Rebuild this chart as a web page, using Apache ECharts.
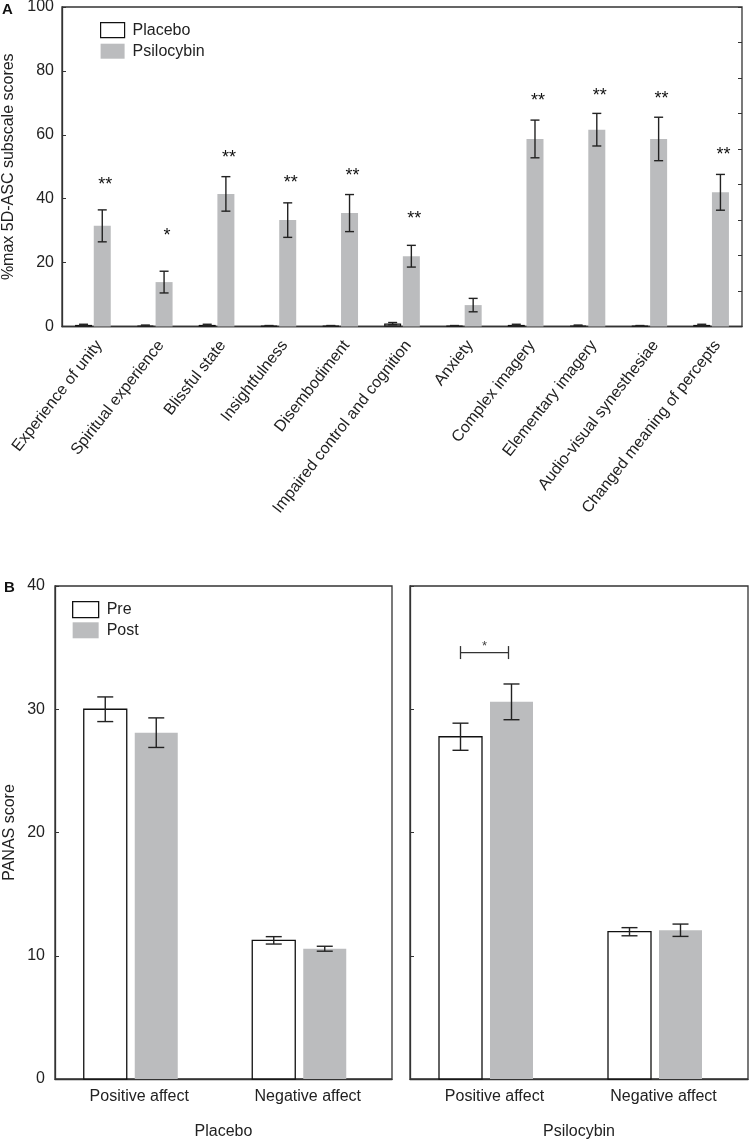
<!DOCTYPE html>
<html><head><meta charset="utf-8">
<script src="https://cdn.jsdelivr.net/npm/echarts@6/dist/echarts.min.js"></script>
<style>html,body{margin:0;padding:0;background:#fff}#c{width:750px;height:1143px}</style>
</head><body><div id="c"></div>
<script>
// ---------- Panel A data ----------
const categoriesA = ['Experience of unity','Spiritual experience','Blissful state','Insightfulness','Disembodiment','Impaired control and cognition','Anxiety','Complex imagery','Elementary imagery','Audio-visual synesthesiae','Changed meaning of percepts'];
const placeboMean = [0.5, 0.3, 0.5, 0.2, 0.2, 0.9, 0.2, 0.5, 0.3, 0.2, 0.5];
const placeboSem  = [0.2, 0.15, 0.2, 0.1, 0.1, 0.35, 0.1, 0.2, 0.15, 0.1, 0.2];
const psiloMean   = [31.5, 13.9, 41.5, 33.3, 35.5, 22.0, 6.7, 58.7, 61.6, 58.7, 42.0];
const psiloSem    = [5.0, 3.4, 5.4, 5.4, 5.8, 3.4, 2.1, 5.9, 5.1, 6.8, 5.6];
const sigLabels   = ['**','*','**','**','**','**','','**','**','**','**'];
const sigY        = [45.6, 29.6, 54.0, 46.2, 48.5, 35.0, null, 71.8, 73.4, 72.3, 54.8];
const yTicksA     = [0, 20, 40, 60, 80, 100];

// ---------- Panel B data ----------
const categoriesB   = ['Positive affect','Negative affect'];
const placeboPre    = [30.0, 11.25];
const placeboPreSem = [1.0, 0.3];
const placeboPost   = [28.1, 10.57];
const placeboPostSem= [1.2, 0.2];
const psiloPre      = [27.77, 11.95];
const psiloPreSem   = [1.1, 0.33];
const psiloPost     = [30.6, 12.07];
const psiloPostSem  = [1.45, 0.5];
const bracketY      = 34.6;
const bracketLabel  = '*';
const yTicksB       = [0, 10, 20, 30, 40];

// ---------- styling ----------
const FONT = 'Liberation Sans, Arial, sans-serif';
const TXT = '#222';
const LINE = '#333';
const GRAY = '#bbbcbe';
const BAR_W_A = 17, GAP_A = 0.1;
const OFF_A = BAR_W_A * (1 + GAP_A) / 2;

function triples(m, s) { return m.map((v, i) => [i, v, s[i]]); }

function errBarItem(api, x, m, e, cap, lw) {
  const top = api.coord([0, m + e])[1];
  const bot = api.coord([0, m - e])[1];
  const st = { stroke: '#222', lineWidth: lw };
  return [
    { type: 'line', shape: { x1: x, y1: top, x2: x, y2: bot }, style: st },
    { type: 'line', shape: { x1: x - cap / 2, y1: top, x2: x + cap / 2, y2: top }, style: st },
    { type: 'line', shape: { x1: x - cap / 2, y1: bot, x2: x + cap / 2, y2: bot }, style: st }
  ];
}

function errRendererA(offset, withSig) {
  return function (params, api) {
    const i = api.value(0), m = api.value(1), e = api.value(2);
    const x = api.coord([i, m])[0] + offset;
    const ch = errBarItem(api, x, m, e, 9, 1.4);
    if (withSig && sigLabels[i]) {
      const yy = api.coord([i, sigY[i]])[1] + 4;
      ch.push({ type: 'text', style: { text: sigLabels[i], x: x + 3, y: yy, align: 'center', verticalAlign: 'middle', font: '18px ' + FONT, fill: '#111' } });
    }
    return { type: 'group', children: ch };
  };
}

function barRendererB(offset, width, filled) {
  return function (params, api) {
    const i = api.value(0), m = api.value(1), e = api.value(2);
    const c = api.coord([i, m]);
    const base = api.coord([i, 0])[1];
    const cx = c[0] + offset;
    const rect = filled
      ? { type: 'rect', shape: { x: cx - width / 2, y: c[1], width: width, height: base - c[1] }, style: { fill: GRAY } }
      : { type: 'rect', shape: { x: cx - width / 2, y: c[1], width: width, height: base - c[1] }, style: { fill: '#fff', stroke: '#111', lineWidth: 1.3 } };
    return { type: 'group', children: [rect].concat(errBarItem(api, cx, m, e, 16, 1.4)) };
  };
}

const PRE_OFF = -34, POST_OFF = 17, BAR_W_B = 43;

const chart = echarts.init(document.getElementById('c'), null, { renderer: 'canvas' });
const axisLab = { color: TXT, fontFamily: FONT, fontSize: 16 };

const option = {
  animation: false,
  backgroundColor: '#fff',
  textStyle: { fontFamily: FONT, color: TXT },
  graphic: [
    { type: 'text', left: 2, top: 2, style: { text: 'A', font: 'bold 15px ' + FONT, fill: '#111' } },
    { type: 'text', left: 4, top: 580, style: { text: 'B', font: 'bold 15px ' + FONT, fill: '#111' } }
  ],
  legend: [
    {
      orient: 'vertical', left: 95, top: 17, itemWidth: 24, itemHeight: 15, itemGap: 5,
      selectedMode: false,
      textStyle: { fontSize: 16, color: TXT, fontFamily: FONT, padding: [0, 0, 0, 3] },
      data: [
        { name: 'Placebo', icon: 'rect', itemStyle: { color: '#fff', borderColor: '#111', borderWidth: 1.2 } },
        { name: 'Psilocybin', icon: 'rect', itemStyle: { color: GRAY, borderWidth: 0 } }
      ]
    },
    {
      orient: 'vertical', left: 67, top: 596, itemWidth: 26, itemHeight: 16, itemGap: 4,
      selectedMode: false,
      textStyle: { fontSize: 16, color: TXT, fontFamily: FONT, padding: [0, 0, 0, 3] },
      data: [
        { name: 'Pre', icon: 'rect', itemStyle: { color: '#fff', borderColor: '#111', borderWidth: 1.3 } },
        { name: 'Post', icon: 'rect', itemStyle: { color: GRAY, borderWidth: 0 } }
      ]
    }
  ],
  grid: [
    { left: 62, top: 7, width: 680, height: 319.5, show: true, borderColor: LINE, borderWidth: 1.3, outerBoundsMode: 'none', containLabel: false },
    { left: 55, top: 586, width: 337, height: 493, show: true, borderColor: LINE, borderWidth: 1.3, outerBoundsMode: 'none', containLabel: false },
    { left: 410, top: 586, width: 338, height: 493, show: true, borderColor: LINE, borderWidth: 1.3, outerBoundsMode: 'none', containLabel: false }
  ],
  xAxis: [
    {
      type: 'category', gridIndex: 0, data: categoriesA,
      axisLine: { lineStyle: { color: LINE, width: 1.3 } }, axisTick: { show: false },
      axisLabel: { rotate: 52, fontSize: 16, color: TXT, fontFamily: FONT, margin: 11, interval: 0, verticalAlign: 'top' }
    },
    {
      type: 'category', gridIndex: 1, data: categoriesB,
      axisLine: { lineStyle: { color: LINE, width: 1.3 } }, axisTick: { show: false },
      axisLabel: { fontSize: 16, color: TXT, fontFamily: FONT, margin: 10 },
      name: 'Placebo', nameLocation: 'middle', nameGap: 45, nameTextStyle: { fontSize: 16, color: TXT, fontFamily: FONT }
    },
    {
      type: 'category', gridIndex: 2, data: categoriesB,
      axisLine: { lineStyle: { color: LINE, width: 1.3 } }, axisTick: { show: false },
      axisLabel: { fontSize: 16, color: TXT, fontFamily: FONT, margin: 10 },
      name: 'Psilocybin', nameLocation: 'middle', nameGap: 45, nameTextStyle: { fontSize: 16, color: TXT, fontFamily: FONT }
    }
  ],
  yAxis: [
    {
      type: 'value', gridIndex: 0, min: yTicksA[0], max: yTicksA[yTicksA.length - 1], interval: yTicksA[1] - yTicksA[0],
      axisLine: { show: true, lineStyle: { color: LINE, width: 1.3 } },
      axisTick: { show: true, inside: true, length: 4, lineStyle: { color: LINE } },
      splitLine: { show: false },
      axisLabel: Object.assign({ margin: 8 }, axisLab),
      name: '%max 5D-ASC subscale scores', nameLocation: 'middle', nameGap: 43,
      nameTextStyle: { fontSize: 16, color: TXT, fontFamily: FONT }
    },
    {
      type: 'value', gridIndex: 0, position: 'right', min: 0, max: 9, interval: 1,
      axisLine: { show: false }, axisLabel: { show: false }, splitLine: { show: false },
      axisTick: { show: true, inside: true, length: 4, lineStyle: { color: LINE } }
    },
    {
      type: 'value', gridIndex: 1, min: yTicksB[0], max: yTicksB[yTicksB.length - 1], interval: yTicksB[1] - yTicksB[0],
      axisLine: { show: true, lineStyle: { color: LINE, width: 1.3 } },
      axisTick: { show: true, inside: true, length: 4, lineStyle: { color: LINE } },
      splitLine: { show: false },
      axisLabel: Object.assign({ margin: 10 }, axisLab),
      name: 'PANAS score', nameLocation: 'middle', nameGap: 37,
      nameTextStyle: { fontSize: 16, color: TXT, fontFamily: FONT }
    },
    {
      type: 'value', gridIndex: 2, min: yTicksB[0], max: yTicksB[yTicksB.length - 1], interval: yTicksB[1] - yTicksB[0],
      axisLine: { show: true, lineStyle: { color: LINE, width: 1.3 } },
      axisTick: { show: true, inside: true, length: 4, lineStyle: { color: LINE } },
      splitLine: { show: false }, axisLabel: { show: false }
    }
  ],
  series: [
    {
      name: 'Placebo', type: 'bar', xAxisIndex: 0, yAxisIndex: 0, data: placeboMean,
      barWidth: BAR_W_A, barGap: (GAP_A * 100) + '%',
      itemStyle: { color: '#fff', borderColor: '#111', borderWidth: 1.2 }
    },
    {
      name: 'Psilocybin', type: 'bar', xAxisIndex: 0, yAxisIndex: 0, data: psiloMean,
      barWidth: BAR_W_A, barGap: (GAP_A * 100) + '%',
      itemStyle: { color: GRAY }
    },
    {
      name: 'errPlacebo', type: 'custom', xAxisIndex: 0, yAxisIndex: 0,
      data: triples(placeboMean, placeboSem), renderItem: errRendererA(-OFF_A, false), z: 5
    },
    {
      name: 'errPsilocybin', type: 'custom', xAxisIndex: 0, yAxisIndex: 0,
      data: triples(psiloMean, psiloSem), renderItem: errRendererA(OFF_A, true), z: 5
    },
    {
      name: 'Pre', type: 'custom', xAxisIndex: 1, yAxisIndex: 2,
      itemStyle: { color: '#fff', borderColor: '#111' },
      data: triples(placeboPre, placeboPreSem), renderItem: barRendererB(PRE_OFF, BAR_W_B, false)
    },
    {
      name: 'Post', type: 'custom', xAxisIndex: 1, yAxisIndex: 2,
      itemStyle: { color: GRAY },
      data: triples(placeboPost, placeboPostSem), renderItem: barRendererB(POST_OFF, BAR_W_B, true)
    },
    {
      name: 'Pre', type: 'custom', xAxisIndex: 2, yAxisIndex: 3,
      itemStyle: { color: '#fff', borderColor: '#111' },
      data: triples(psiloPre, psiloPreSem), renderItem: barRendererB(PRE_OFF, BAR_W_B, false)
    },
    {
      name: 'Post', type: 'custom', xAxisIndex: 2, yAxisIndex: 3,
      itemStyle: { color: GRAY },
      data: triples(psiloPost, psiloPostSem), renderItem: barRendererB(POST_OFF, BAR_W_B, true)
    },
    {
      name: 'bracket', type: 'custom', xAxisIndex: 2, yAxisIndex: 3,
      data: [[0, bracketY]],
      renderItem: function (params, api) {
        const c = api.coord([api.value(0), api.value(1)]);
        const x1 = c[0] + PRE_OFF, x2 = c[0] + POST_OFF - 3, y = c[1];
        const st = { stroke: '#333', lineWidth: 1.3 };
        return { type: 'group', children: [
          { type: 'line', shape: { x1: x1, y1: y, x2: x2, y2: y }, style: st },
          { type: 'line', shape: { x1: x1, y1: y - 6.5, x2: x1, y2: y + 6.5 }, style: st },
          { type: 'line', shape: { x1: x2, y1: y - 6.5, x2: x2, y2: y + 6.5 }, style: st },
          { type: 'text', style: { text: bracketLabel, x: (x1 + x2) / 2, y: y - 6, align: 'center', verticalAlign: 'middle', font: '13px ' + FONT, fill: '#444' } }
        ] };
      }
    }
  ]
};
chart.setOption(option);
</script>
</body></html>
